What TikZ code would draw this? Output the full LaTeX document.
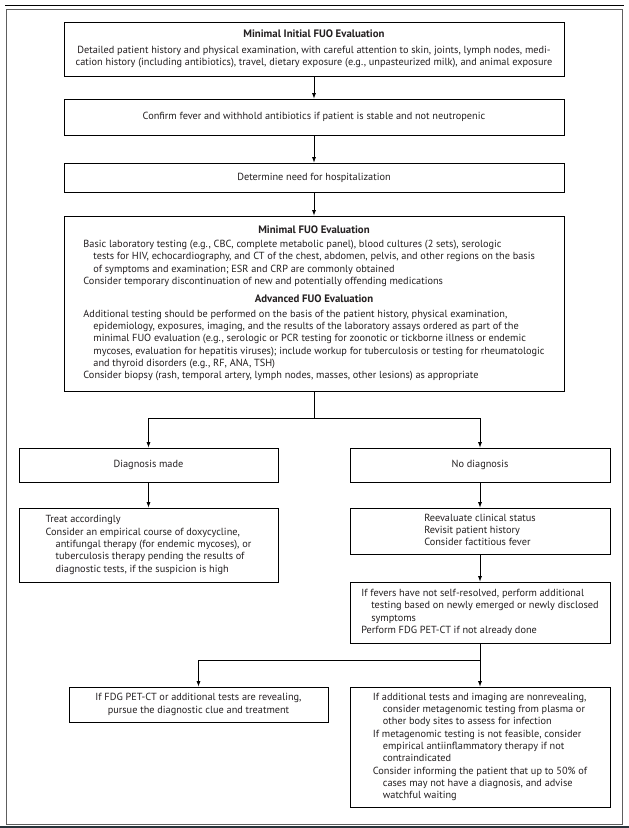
\documentclass[tikz,border=0pt]{standalone}
\usepackage{fontspec}
\setmainfont{PT Sans}
\usetikzlibrary{arrows.meta}
\definecolor{txt}{HTML}{231F20}
\definecolor{framec}{HTML}{5E5E5E}
\definecolor{bandc}{HTML}{27343A}
\newcommand\hd[1]{\multicolumn{1}{@{}c@{}}{\bfseries #1}}
\newcommand\ind{\hspace*{10pt}}
\newcommand\ttlfont{\fontsize{10.8}{12}\selectfont}
\tikzset{
  box/.style={draw=black, line width=0.8pt, inner sep=0pt, text=txt,
    font=\fontsize{10.3}{12.3}\selectfont, align=center},
  arr/.style={-{Latex[length=5.5pt,width=4pt]}, line width=0.7pt},
  link/.style={line width=0.7pt},
}
\begin{document}
\begin{tikzpicture}[x=1pt,y=-1pt]
\useasboundingbox[fill=white] (0,0) rectangle (629,828);
\draw[line width=1.2pt] (5,5.3) -- (624,5.3);
\draw[framec, line width=1pt] (6.3,9.3) rectangle (622.5,824.3);
\fill[bandc] (0,826.3) rectangle (629,828);

\node[box, minimum width=500pt, minimum height=54pt] (b1) at (314,49)
 {{\ttlfont\bfseries Minimal Initial FUO Evaluation}\\[3pt]
  Detailed patient history and physical examination, with careful attention to skin, joints, lymph nodes, medi-\\
  cation history (including antibiotics), travel, dietary exposure (e.g., unpasteurized milk), and animal exposure};

\node[box, minimum width=500pt, minimum height=36pt] (b2) at (314,117)
 {Confirm fever and withhold antibiotics if patient is stable and not neutropenic};

\node[box, minimum width=500pt, minimum height=29.5pt] (b3) at (314,177.8)
 {Determine need for hospitalization};

\node[box, minimum width=500pt, minimum height=175pt] (big) at (314,303.5)
 {\begin{tabular}{@{}l@{}}
  \hd{\ttlfont Minimal FUO Evaluation}\\[2pt]
  Basic laboratory testing (e.g., CBC, complete metabolic panel), blood cultures (2 sets), serologic\\
  \ind tests for HIV, echocardiography, and CT of the chest, abdomen, pelvis, and other regions on the basis\\
  \ind of symptoms and examination; ESR and CRP are commonly obtained\\
  Consider temporary discontinuation of new and potentially offending medications\\[6pt]
  \hd{\ttlfont Advanced FUO Evaluation}\\[2pt]
  Additional testing should be performed on the basis of the patient history, physical examination,\\
  \ind epidemiology, exposures, imaging, and the results of the laboratory assays ordered as part of the\\
  \ind minimal FUO evaluation (e.g., serologic or PCR testing for zoonotic or tickborne illness or endemic\\
  \ind mycoses, evaluation for hepatitis viruses); include workup for tuberculosis or testing for rheumatologic\\
  \ind and thyroid disorders (e.g., RF, ANA, TSH)\\
  Consider biopsy (rash, temporal artery, lymph nodes, masses, other lesions) as appropriate
  \end{tabular}};

\node[box, minimum width=259pt, minimum height=34pt] (dm) at (148.5,465) {Diagnosis made};
\node[box, minimum width=260pt, minimum height=34pt] (nd) at (480,465) {No diagnosis};

\node[box, minimum width=259pt, minimum height=74pt] (treat) at (148.5,545)
 {\begin{tabular}{@{}l@{}}
  Treat accordingly\\
  Consider an empirical course of doxycycline,\\
  \ind antifungal therapy (for endemic mycoses), or\\
  \ind tuberculosis therapy pending the results of\\
  \ind diagnostic tests, if the suspicion is high
  \end{tabular}};

\node[box, minimum width=260pt, minimum height=46pt] (reev) at (480,531)
 {\begin{tabular}{@{}l@{}}
  Reevaluate clinical status\\
  Revisit patient history\\
  Consider factitious fever
  \end{tabular}};

\node[box, minimum width=260pt, minimum height=61pt] (fev) at (480,612.5)
 {\begin{tabular}{@{}l@{}}
  If fevers have not self-resolved, perform additional\\
  \ind testing based on newly emerged or newly disclosed\\
  \ind symptoms\\
  Perform FDG PET-CT if not already done
  \end{tabular}};

\node[box, minimum width=259pt, minimum height=35pt] (bl) at (198.5,704.5)
 {If FDG PET-CT or additional tests are revealing,\\
  pursue the diagnostic clue and treatment};

\node[box, minimum width=260pt, minimum height=120pt] (br) at (480,747)
 {\begin{tabular}{@{}l@{}}
  If additional tests and imaging are nonrevealing,\\
  \ind consider metagenomic testing from plasma or\\
  \ind other body sites to assess for infection\\
  If metagenomic testing is not feasible, consider\\
  \ind empirical antiinflammatory therapy if not\\
  \ind contraindicated\\
  Consider informing the patient that up to 50\% of\\
  \ind cases may not have a diagnosis, and advise\\
  \ind watchful waiting
  \end{tabular}};

\coordinate (j1) at (314,418);
\coordinate (j2) at (480,660);

\draw[arr] (b1) -- (b2);
\draw[arr] (b2) -- (b3);
\draw[arr] (b3) -- (big);
\draw[link] (big.south) -- (j1);
\draw[arr] (j1) -| (dm.north);
\draw[arr] (j1) -| (nd.north);
\draw[arr] (dm) -- (treat);
\draw[arr] (nd) -- (reev);
\draw[arr] (reev) -- (fev);
\draw[link] (fev.south) -- (j2);
\draw[arr] (j2) -| (bl.north);
\draw[arr] (j2) -- (br.north);
\end{tikzpicture}
\end{document}
